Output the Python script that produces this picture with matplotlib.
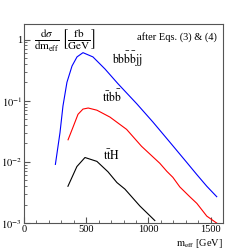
import numpy as np
import matplotlib
matplotlib.use("Agg")
import matplotlib.pyplot as plt

plt.rcParams["font.family"] = ["Liberation Serif", "DejaVu Serif"]
plt.rcParams["mathtext.fontset"] = "stix"

# values (m_eff in GeV, dsigma/dm_eff in fb/GeV)
bbbbjj_x = [252, 289, 313, 345, 386, 426, 474, 554, 651, 755, 907, 1036, 1173, 1309, 1390, 1470, 1550]
bbbbjj_y = [0.0091, 0.030, 0.082, 0.20, 0.37, 0.52, 0.61, 0.52, 0.33, 0.19, 0.089, 0.045, 0.021, 0.0098, 0.0062, 0.0040, 0.0027]

ttbb_x = [354, 394, 434, 474, 516, 586, 691, 825, 945, 1092, 1149, 1197, 1253, 1333, 1390, 1470, 1550]
ttbb_y = [0.023, 0.037, 0.060, 0.073, 0.076, 0.070, 0.054, 0.034, 0.018, 0.0095, 0.0070, 0.0056, 0.0039, 0.0027, 0.0021, 0.0013, 0.001]

ttH_x = [353, 425, 490, 586, 675, 747, 811, 932, 1052]
ttH_y = [0.0040, 0.0084, 0.0118, 0.0102, 0.0069, 0.0046, 0.0036, 0.0019, 0.0011]

fig = plt.figure(figsize=(2.48, 2.49), dpi=100)
ax = fig.add_axes([0.097, 0.104, 0.802, 0.800])

ax.plot(bbbbjj_x, bbbbjj_y, color="blue", lw=0.8)
ax.plot(ttbb_x, ttbb_y, color="red", lw=0.8)
ax.plot(ttH_x, ttH_y, color="black", lw=0.8)

ax.set_yscale("log")
ax.set_xlim(0, 1600)
ax.set_ylim(1e-3, 1.8)
ax.set_xticks([0, 500, 1000, 1500])
ax.set_xticks(np.arange(0, 1601, 100), minor=True)
ax.set_yticks([1e-3, 1e-2, 1e-1, 1])
ax.set_yticklabels([r"$10^{-3}$", r"$10^{-2}$", r"$10^{-1}$", "1"])
ax.tick_params(which="both", direction="in", labelsize=7.5, color="#555555", pad=1.5)
ax.tick_params(which="major", length=4)
ax.tick_params(which="minor", length=2)
for s in ax.spines.values():
    s.set_color("#555555")

fs = 8.5
ax.text(0.05, 0.98, r"$\frac{\mathrm{d}\sigma}{\mathrm{dm_{eff}}}\,\left[\frac{\mathrm{fb}}{\mathrm{GeV}}\right]$",
        transform=ax.transAxes, fontsize=11.5, va="top", ha="left")
ax.text(0.97, 0.935, "after Eqs. (3) & (4)", transform=ax.transAxes, fontsize=7.5, ha="right", va="center")
ax.text(835, 0.47, r"$\mathrm{bb\bar{b}\bar{b}jj}$", fontsize=fs, ha="center", va="center")
ax.text(707, 0.115, r"$\mathrm{t\bar{t}b\bar{b}}$", fontsize=fs, ha="center", va="center")
ax.text(700, 0.0125, r"$\mathrm{t\bar{t}H}$", fontsize=fs, ha="center", va="center")
ax.text(1.0, -0.068, r"$\mathrm{m_{eff}}$ [GeV]", transform=ax.transAxes, fontsize=7.5, ha="right", va="top")

fig.savefig("out.png", dpi=100)
